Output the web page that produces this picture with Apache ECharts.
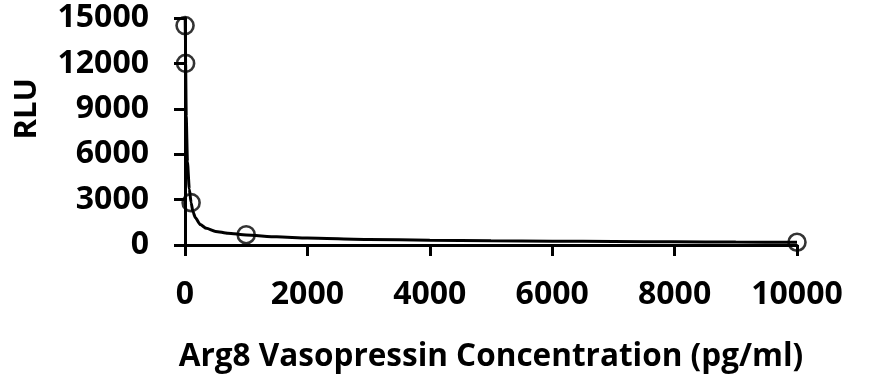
<!DOCTYPE html>
<html><head><meta charset="utf-8">
<script src="https://cdn.jsdelivr.net/npm/echarts@6/dist/echarts.min.js"></script>
<style>html,body{margin:0;padding:0;background:#fff}#c{width:869px;height:392px}</style>
</head><body><div id="c"></div>
<script>
const xTicks = [0, 2000, 4000, 6000, 8000, 10000];
const yTicks = [0, 3000, 6000, 9000, 12000, 15000];
const pointX = [1, 10, 100, 1000, 10000];
const pointY = [14500, 12000, 2800, 680, 180];
const curveX = [3, 10, 20, 40, 70, 100, 130, 170, 250, 350, 500, 700, 1000, 1500, 2000, 3000, 4000, 5000, 6000, 7000, 8000, 9000, 10000];
const curveY = [15000, 12000, 8500, 5500, 3700, 2800, 2200, 1800, 1350, 1100, 900, 780, 660, 540, 460, 370, 310, 275, 250, 230, 210, 195, 180];

const font = "'Open Sans', sans-serif";
const chart = echarts.init(document.getElementById('c'));
chart.setOption({
  animation: false,
  grid: {left: 185, right: 72, top: 18, bottom: 147},
  graphic: [{type: 'text', left: 12, top: 78, rotation: Math.PI / 2,
    style: {text: 'RLU', font: "bold 31px 'Open Sans', sans-serif", fill: '#000'}}],
  xAxis: {
    type: 'value', min: 0, max: 10000, interval: 2000,
    name: 'Arg8 Vasopressin Concentration (pg/ml)', nameLocation: 'middle', nameGap: 96,
    nameTextStyle: {fontFamily: font, fontWeight: 'bold', fontSize: 31.5, color: '#000'},
    axisLine: {lineStyle: {color: '#000', width: 3}},
    axisTick: {show: true, length: 11, lineStyle: {color: '#000', width: 3}},
    axisLabel: {fontFamily: font, fontWeight: 'bold', fontSize: 32, color: '#000', margin: 34,
      formatter: v => xTicks.includes(v) ? String(v) : ''},
    splitLine: {show: false}
  },
  yAxis: {
    type: 'value', min: 0, max: 15000, interval: 3000,
    axisLine: {show: true, lineStyle: {color: '#000', width: 3}},
    axisTick: {show: true, length: 11, lineStyle: {color: '#000', width: 3}},
    axisLabel: {fontFamily: font, fontWeight: 'bold', fontSize: 32, color: '#000', margin: 36,
      formatter: v => yTicks.includes(v) ? String(v) : ''},
    splitLine: {show: false}
  },
  series: [
    {type: 'line', data: curveX.map((x, i) => [x, curveY[i]]), smooth: 0.2, smoothMonotone: 'x', showSymbol: false,
      lineStyle: {color: '#000', width: 3}, z: 2},
    {type: 'scatter', data: pointX.map((x, i) => [x, pointY[i]]), symbol: 'circle', symbolSize: 17,
      itemStyle: {color: 'rgba(0,0,0,0)', borderColor: '#000', borderWidth: 2.6}, z: 3}
  ]
});
</script></body></html>
